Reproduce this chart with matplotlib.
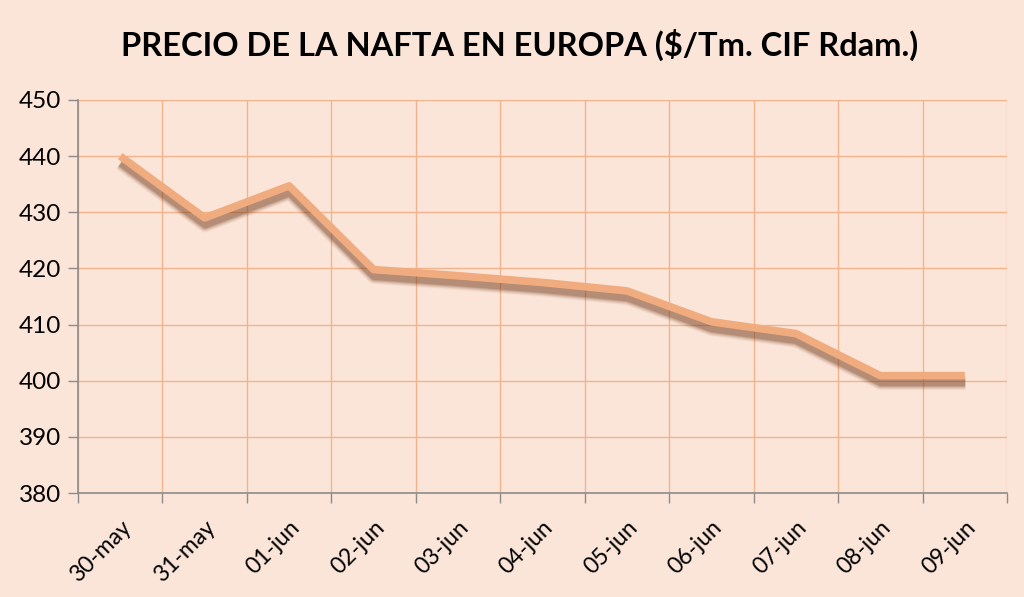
import matplotlib
matplotlib.use("Agg")
import matplotlib.pyplot as plt
import matplotlib.transforms as mtransforms
from matplotlib.ticker import FixedLocator

dates = ["30-may", "31-may", "01-jun", "02-jun", "03-jun", "04-jun",
         "05-jun", "06-jun", "07-jun", "08-jun", "09-jun"]
prices = [440.0, 429.0, 434.7, 419.8, 418.7, 417.5, 416.0, 410.5, 408.4, 400.9, 400.9]
yticks = [380, 390, 400, 410, 420, 430, 440, 450]
title = "PRECIO DE LA NAFTA EN EUROPA ($/Tm. CIF Rdam.)"

bg = "#FBE5D8"
grid_c = "#F2B38C"
line_c = "#F0AC7E"
axis_c = "#8C8C8C"
fam = ["Lato", "DejaVu Sans"]

fig = plt.figure(figsize=(10.24, 5.97), dpi=100, facecolor=bg)
ax = fig.add_axes([0.0762, 0.1742, 0.9072, 0.6583])
ax.set_facecolor(bg)

x = list(range(len(dates)))
shift = ax.transData + mtransforms.ScaledTranslation(0.5/100, -7/100, fig.dpi_scale_trans)
# soft blurred shadow built from layered translucent strokes
for w, a in [(15, 0.05), (13, 0.08), (11, 0.11), (9, 0.15), (7, 0.22)]:
    ax.plot(x, prices, color="#6E3412", lw=w * 0.72, alpha=a, solid_capstyle="butt",
            solid_joinstyle="round", zorder=3, transform=shift)
ax.plot(x, prices, color=line_c, lw=5.5, solid_capstyle="butt", solid_joinstyle="round", zorder=4)

ax.set_xlim(-0.5, len(dates) - 0.5)
ax.set_ylim(380, 450)
ax.set_yticks(yticks)
ax.set_xticks(x)
ax.set_xticklabels(dates, rotation=45, ha="right", va="top", rotation_mode="anchor",
                   fontsize=16.5, family=fam)
ax.xaxis.set_minor_locator(FixedLocator([i - 0.5 for i in range(len(dates) + 1)]))
ax.tick_params(axis="x", which="major", length=0, pad=17)
ax.tick_params(axis="x", which="minor", length=7, color=axis_c, width=1)
ax.tick_params(axis="y", length=7, color=axis_c, width=1, labelsize=17.5, pad=5)
for lab in ax.get_yticklabels():
    lab.set_family(fam)

ax.grid(True, which="minor", axis="x", color=grid_c, lw=1)
ax.grid(True, which="major", axis="y", color=grid_c, lw=1)
ax.set_axisbelow(True)
for s in ["top", "right"]:
    ax.spines[s].set_visible(False)
for s in ["left", "bottom"]:
    ax.spines[s].set_color(axis_c)
    ax.spines[s].set_linewidth(1.2)

fig.text(0.507, 0.925, title, ha="center", va="center", fontsize=23.5,
         fontweight="bold", family=fam, color="black")

fig.savefig("out.png", dpi=100, facecolor=bg)
